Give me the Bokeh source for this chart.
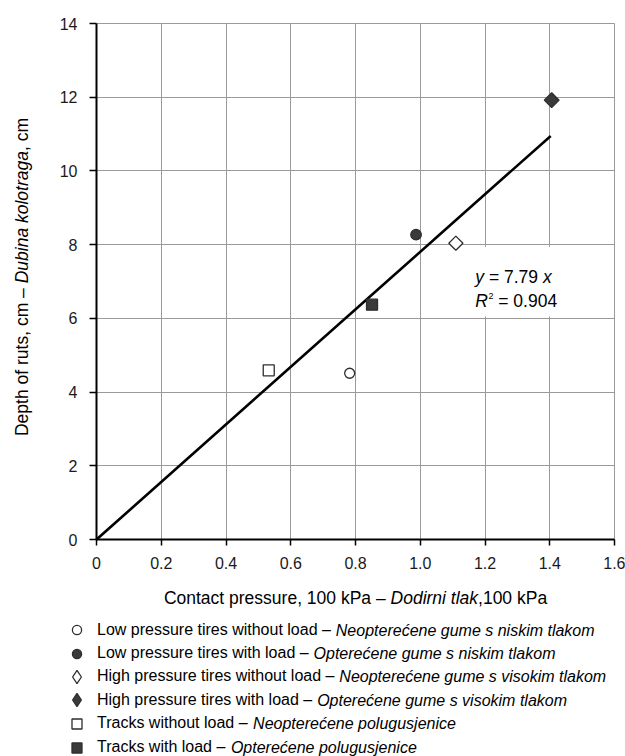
import math
from bokeh.plotting import figure
from bokeh.models import Range1d, FixedTicker, Label, Legend, LegendItem, BoxAnnotation, ColumnDataSource, Grid
from bokeh.embed import file_html
from bokeh.resources import INLINE

# ---------------- data ----------------
series_en = [
    "Low pressure tires without load –",
    "Low pressure tires with load –",
    "High pressure tires without load –",
    "High pressure tires with load –",
    "Tracks without load –",
    "Tracks with load –",
]
series_hr = [
    "Neopterećene gume s niskim tlakom",
    "Opterećene gume s niskim tlakom",
    "Neopterećene gume s visokim tlakom",
    "Opterećene gume s visokim tlakom",
    "Neopterećene polugusjenice",
    "Opterećene polugusjenice",
]
contact_pressure = [0.782, 0.987, 1.110, 1.406, 0.532, 0.851]
rut_depth = [4.51, 8.27, 8.04, 11.92, 4.59, 6.37]
trend_x = [0.0, 1.403]
trend_y = [0.0, 10.95]
x_ticks = [0, 0.2, 0.4, 0.6, 0.8, 1.0, 1.2, 1.4, 1.6]
x_tick_labels = ["0", "0.2", "0.4", "0.6", "0.8", "1.0", "1.2", "1.4", "1.6"]
y_ticks = [0, 2, 4, 6, 8, 10, 12, 14]
x_lim = (0, 1.6)
y_lim = (0, 14)
eq_slope = "7.79"
eq_r2 = "0.904"
x_label_parts = ["Contact pressure, 100 kPa –", "Dodirni tlak", ",100 kPa"]
y_label_parts = ["Depth of ruts, cm –", "Dubina kolotraga", ", cm"]
label_styles = ["normal", "italic", "normal"]

# ---------------- styles ----------------
FONT = "Liberation Sans"
DARK = "#3a3a3a"
EDGE = "#2e2e2e"
GRID = "#9a9a9a"
# legend_marker: shape used for the legend key (legend keys ignore marker angle)
# key_box: legend glyph box (legend key size is 0.4 * box)
marker_styles = [
    dict(marker="circle", fill_color="white", angle=0.0, size=10, legend_marker=None, key_box=23),
    dict(marker="circle", fill_color=DARK, angle=0.0, size=10.5, legend_marker=None, key_box=23),
    dict(marker="square", fill_color="white", angle=math.pi / 4, size=10, legend_marker="diamond", key_box=33),
    dict(marker="square", fill_color=DARK, angle=math.pi / 4, size=10.5, legend_marker="diamond", key_box=33),
    dict(marker="square", fill_color="white", angle=0.0, size=11, legend_marker=None, key_box=25),
    dict(marker="square", fill_color=DARK, angle=0.0, size=11, legend_marker=None, key_box=25),
]

# Arial / Liberation Sans advance widths (1/1000 em)
AW = {' ': 278, ',': 278, '.': 278, '–': 556, '=': 584, '²': 333,
      'a': 556, 'b': 556, 'c': 500, 'd': 556, 'e': 556, 'f': 278, 'g': 556, 'h': 556,
      'i': 222, 'j': 222, 'k': 500, 'l': 222, 'm': 833, 'n': 556, 'o': 556, 'p': 556,
      'q': 556, 'r': 333, 's': 500, 't': 278, 'u': 556, 'v': 500, 'w': 722, 'x': 500,
      'y': 500, 'z': 500, 'ć': 500,
      'C': 722, 'D': 722, 'H': 722, 'L': 556, 'N': 722, 'O': 778, 'P': 667, 'R': 722, 'T': 611}


def tw(s, size):
    return sum(AW.get(c, 556) for c in s) * size / 1000.0


# canvas and plot-area placement (pixels from the top-left corner)
W, H = 625, 756
PL, PR, PT, PB = 96, 614, 23, 539
kx = (PR - PL) / (x_lim[1] - x_lim[0])
ky = (PB - PT) / (y_lim[1] - y_lim[0])
x_range = Range1d(x_lim[0] - PL / kx, x_lim[1] + (W - PR) / kx)
y_range = Range1d(y_lim[0] - (H - PB) / ky, y_lim[1] + PT / ky)

p = figure(width=W, height=H, x_range=x_range, y_range=y_range, title=None,
           output_backend="svg", toolbar_location=None,
           min_border_left=0, min_border_right=0, min_border_top=0, min_border_bottom=0,
           background_fill_color="white", border_fill_color="white", outline_line_color=None)

xax, yax = p.xaxis[0], p.yaxis[0]
xax.fixed_location = y_lim[0]
yax.fixed_location = x_lim[0]
xax.bounds = x_lim
yax.bounds = y_lim
xax.ticker = FixedTicker(ticks=x_ticks)
xax.major_label_overrides = dict(zip(x_ticks, x_tick_labels))
yax.ticker = FixedTicker(ticks=y_ticks)

xg, yg = p.xgrid[0], p.ygrid[0]
xg.ticker = FixedTicker(ticks=x_ticks)
yg.ticker = FixedTicker(ticks=y_ticks)
if "cross_bounds" in Grid.properties():
    xg.bounds = x_lim
    yg.bounds = y_lim
    xg.cross_bounds = y_lim
    yg.cross_bounds = x_lim
    for g in (xg, yg):
        g.grid_line_color = GRID
        g.grid_line_width = 1
else:
    xg.visible = False
    yg.visible = False
    p.segment(x0=x_ticks, y0=[y_lim[0]] * len(x_ticks), x1=x_ticks, y1=[y_lim[1]] * len(x_ticks),
              line_color=GRID, line_width=1, level="underlay")
    p.segment(x0=[x_lim[0]] * len(y_ticks), y0=y_ticks, x1=[x_lim[1]] * len(y_ticks), y1=y_ticks,
              line_color=GRID, line_width=1, level="underlay")

for ax in (xax, yax):
    ax.axis_line_color = "black"
    ax.axis_line_width = 2
    ax.major_tick_line_color = "black"
    ax.major_tick_line_width = 1.5
    ax.major_tick_in = 0
    ax.major_tick_out = 6
    ax.minor_tick_line_color = None
    ax.major_label_text_font = FONT
    ax.major_label_text_font_size = "16px"
    ax.major_label_text_color = "#1a1a1a"
xax.major_label_standoff = 11
yax.major_tick_out = 7
yax.major_label_standoff = 12

# equation background box
p.add_layout(BoxAnnotation(left=1.06, right=1.58, bottom=6.05, top=7.94,
                           fill_color="white", fill_alpha=1.0, line_color=None, level="underlay"))

# trend line
p.line(trend_x, trend_y, line_color="black", line_width=2.6)

legend_renderers = []
for i in range(len(contact_pressure)):
    st = marker_styles[i]
    src = ColumnDataSource(dict(x=[contact_pressure[i]], y=[rut_depth[i]]))
    r = p.scatter("x", "y", source=src, marker=st["marker"], size=st["size"], angle=st["angle"],
                  fill_color=st["fill_color"], line_color=EDGE, line_width=1.3)
    if st["legend_marker"] is not None:
        # same point, drawn only as the legend key
        r = p.scatter("x", "y", source=src, marker=st["legend_marker"], size=st["size"],
                      fill_color=st["fill_color"], line_color=EDGE, line_width=1.3, visible=False)
    legend_renderers.append(r)

# legend below the plot area: one row per series
LFS = 16
KEY_CX = 76.5            # centre of legend keys (px)
TEXT_X = 97.0            # start of legend texts (px)
ROW_CY = [629.5, 653.0, 676.0, 699.5, 723.0, 747.0]
for i in range(len(series_en)):
    box = marker_styles[i]["key_box"]
    standoff = int(round(TEXT_X - KEY_CX - box / 2))
    left = TEXT_X - standoff - box
    p.add_layout(Legend(items=[LegendItem(label=series_en[i], renderers=[legend_renderers[i]])],
                        location=(left, H - (ROW_CY[i] + box / 2)), orientation="vertical",
                        glyph_width=box, glyph_height=box, label_height=box, spacing=0, padding=0, margin=0,
                        label_standoff=standoff, label_text_font=FONT, label_text_font_size=f"{LFS}px",
                        label_text_color="black", border_line_color=None, background_fill_alpha=0))
    p.add_layout(Label(x=TEXT_X + tw(series_en[i] + " ", LFS), y=H - ROW_CY[i], x_units="screen", y_units="screen",
                       text=series_hr[i], text_font=FONT, text_font_size=f"{LFS}px", text_font_style="italic",
                       text_color="black", text_align="left", text_baseline="middle"))

# x axis title (mixed styles)
AFS = 17.5
x_full = x_label_parts[0] + " " + x_label_parts[1] + x_label_parts[2]
xw = tw(x_full, AFS)
x_starts = [0.0, tw(x_label_parts[0] + " ", AFS), tw(x_label_parts[0] + " " + x_label_parts[1], AFS)]
x0 = (PL + PR) / 2 - xw / 2
for s, fs, st in zip(x_label_parts, label_styles, x_starts):
    p.add_layout(Label(x=x0 + st, y=H - 597, x_units="screen", y_units="screen", text=s,
                       text_font=FONT, text_font_size=f"{AFS}px", text_font_style=fs,
                       text_color="black", text_align="left", text_baseline="middle"))

# y axis title (rotated, mixed styles)
y_full = y_label_parts[0] + " " + y_label_parts[1] + y_label_parts[2]
yw = tw(y_full, AFS)
y_starts = [0.0, tw(y_label_parts[0] + " ", AFS), tw(y_label_parts[0] + " " + y_label_parts[1], AFS)]
y0 = H - (276.5 + yw / 2)
for s, fs, st in zip(y_label_parts, label_styles, y_starts):
    p.add_layout(Label(x=21, y=y0 + st, x_units="screen", y_units="screen", text=s, angle=math.pi / 2,
                       text_font=FONT, text_font_size=f"{AFS}px", text_font_style=fs,
                       text_color="black", text_align="left", text_baseline="middle"))

# regression equation
EFS = 17.5
EX = 1.17
y1, y2 = 7.116, 6.465
eq1 = [("y", "italic", 0.0),
       ("= " + eq_slope, "normal", tw("y ", EFS)),
       ("x", "italic", tw("y = " + eq_slope + " ", EFS))]
for s, fs, off in eq1:
    p.add_layout(Label(x=EX, y=y1, x_offset=off, text=s, text_font=FONT, text_font_size=f"{EFS}px",
                       text_font_style=fs, text_color="black", text_baseline="alphabetic"))
p.add_layout(Label(x=EX, y=y2, text="R", text_font=FONT, text_font_size=f"{EFS}px",
                   text_font_style="italic", text_color="black", text_baseline="alphabetic"))
off = tw("R", EFS) + 0.5
p.add_layout(Label(x=EX, y=y2, x_offset=off, y_offset=5.7, text="2", text_font=FONT, text_font_size="9px",
                   text_color="black", text_baseline="alphabetic"))
off += tw("2", 9) + tw(" ", EFS)
p.add_layout(Label(x=EX, y=y2, x_offset=off, text="= " + eq_r2, text_font=FONT, text_font_size=f"{EFS}px",
                   text_color="black", text_baseline="alphabetic"))

open("out.html", "w").write(file_html(p, INLINE))
